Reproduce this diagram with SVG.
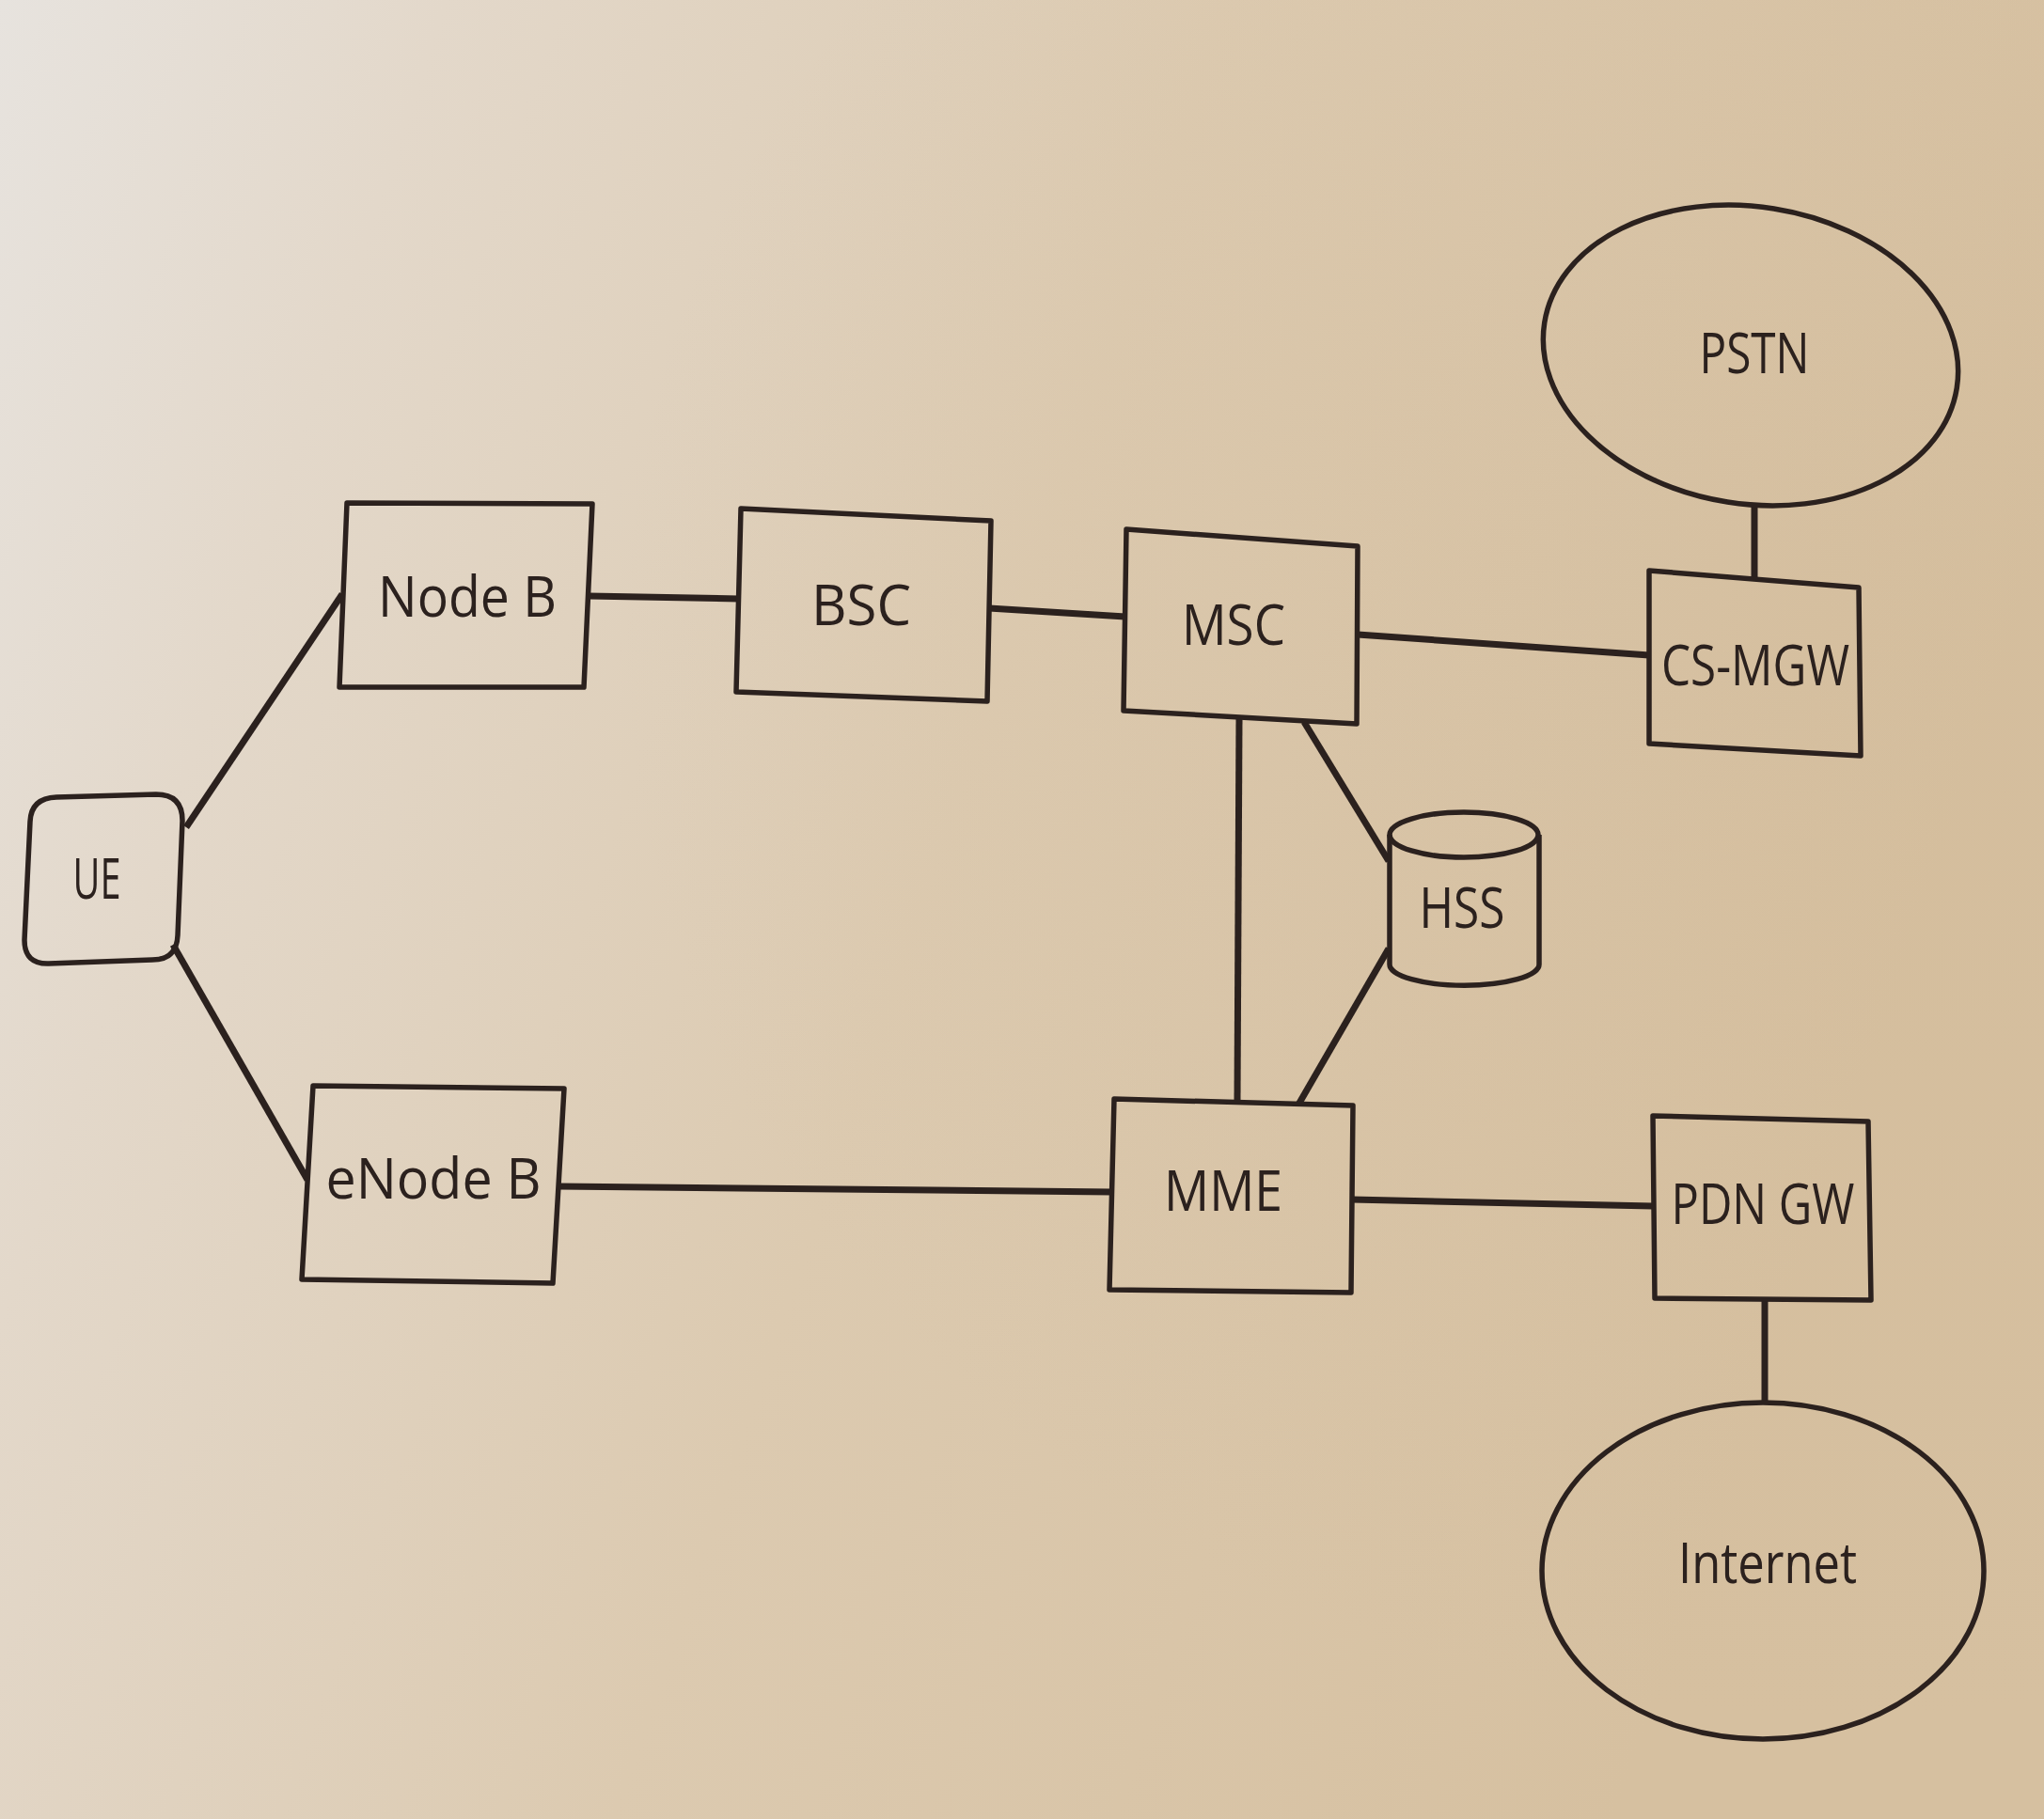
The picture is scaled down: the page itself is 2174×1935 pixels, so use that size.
<svg xmlns="http://www.w3.org/2000/svg" width="2174" height="1935" viewBox="0 0 2174 1935">
<defs>
<linearGradient id="paper" x1="0" y1="0" x2="1" y2="0.3">
<stop offset="0" stop-color="#e7e3de"/>
<stop offset="0.2" stop-color="#e3d8ca"/>
<stop offset="0.55" stop-color="#dccab0"/>
<stop offset="1" stop-color="#d6c0a0"/>
</linearGradient>
<radialGradient id="shade" cx="0.9" cy="0.35" r="0.6">
<stop offset="0" stop-color="#cdb38f" stop-opacity="0.2"/>
<stop offset="1" stop-color="#cdb38f" stop-opacity="0"/>
</radialGradient>
<style>
.sh{fill:none;stroke:#2b211e;stroke-width:5.5;stroke-linejoin:round}
.ln{fill:none;stroke:#2b211e;stroke-width:7;stroke-linecap:butt}
.t{font-family:"Open Sans","Noto Sans",sans-serif;font-size:60px;fill:#2b211e;text-anchor:middle}
</style>
</defs>
<rect width="2174" height="1935" fill="url(#paper)"/>
<rect width="2174" height="1935" fill="url(#shade)"/>

<g id="connectors">
<line class="ln" x1="198" y1="880" x2="364" y2="632"/>
<line class="ln" x1="184" y1="1005" x2="327" y2="1255"/>
<line class="ln" x1="626" y1="634" x2="786" y2="637"/>
<line class="ln" x1="1052" y1="647" x2="1197" y2="656"/>
<line class="ln" x1="1444" y1="675" x2="1754" y2="697"/>
<line class="ln" x1="1866" y1="537" x2="1866" y2="615"/>
<line class="ln" x1="1318" y1="764" x2="1316" y2="1170"/>
<line class="ln" x1="1387" y1="768" x2="1477" y2="916"/>
<line class="ln" x1="1477" y1="1009" x2="1381" y2="1175"/>
<line class="ln" x1="594" y1="1262" x2="1183" y2="1268"/>
<line class="ln" x1="1438" y1="1276" x2="1758" y2="1283"/>
<line class="ln" x1="1877" y1="1382" x2="1877" y2="1492"/>
</g>

<g id="ue">
<path class="sh" d="M60,848 L166,845 Q194,845 194,873 L189,995 Q188,1021 162,1021 L52,1025 Q26,1026 26,1000 L32,874 Q33,849 60,848 Z"/>
<text class="t" x="103" y="956" textLength="51" lengthAdjust="spacingAndGlyphs">UE</text>
</g>

<g id="node-b">
<polygon class="sh" points="369,535 630,536 621,731 361,731"/>
<text class="t" x="497" y="656" textLength="190" lengthAdjust="spacingAndGlyphs">Node B</text>
</g>

<g id="bsc">
<polygon class="sh" points="788,541 1054,554 1050,746 783,736"/>
<text class="t" x="916" y="665" textLength="106" lengthAdjust="spacingAndGlyphs">BSC</text>
</g>

<g id="msc">
<polygon class="sh" points="1198,563 1444,581 1443,770 1195,756"/>
<text class="t" x="1312" y="686" textLength="110" lengthAdjust="spacingAndGlyphs">MSC</text>
</g>

<g id="cs-mgw">
<polygon class="sh" points="1754,607 1977,625 1979,804 1754,791"/>
<text class="t" x="1867" y="729" textLength="200" lengthAdjust="spacingAndGlyphs">CS-MGW</text>
</g>

<g id="pstn">
<ellipse class="sh" cx="1862" cy="378" rx="222" ry="158" transform="rotate(9 1862 378)"/>
<text class="t" x="1866" y="397" textLength="117" lengthAdjust="spacingAndGlyphs">PSTN</text>
</g>

<g id="hss">
<path class="sh" d="M1478,888 L1478,1026 A79,22 0 0 0 1637,1026 L1637,888"/>
<ellipse class="sh" cx="1557" cy="888" rx="79" ry="24"/>
<text class="t" x="1555" y="987" textLength="91" lengthAdjust="spacingAndGlyphs">HSS</text>
</g>

<g id="enode-b">
<polygon class="sh" points="333,1155 600,1158 588,1365 321,1361"/>
<text class="t" x="461" y="1275" textLength="229" lengthAdjust="spacingAndGlyphs">eNode B</text>
</g>

<g id="mme">
<polygon class="sh" points="1185,1169 1439,1176 1437,1375 1180,1372"/>
<text class="t" x="1301" y="1288" textLength="126" lengthAdjust="spacingAndGlyphs">MME</text>
</g>

<g id="pdn-gw">
<polygon class="sh" points="1758,1187 1987,1193 1990,1383 1760,1381"/>
<text class="t" x="1875" y="1302" textLength="195" lengthAdjust="spacingAndGlyphs">PDN GW</text>
</g>

<g id="internet">
<ellipse class="sh" cx="1875" cy="1671" rx="235" ry="179"/>
<text class="t" x="1880" y="1684" textLength="190" lengthAdjust="spacingAndGlyphs">Internet</text>
</g>
</svg>
